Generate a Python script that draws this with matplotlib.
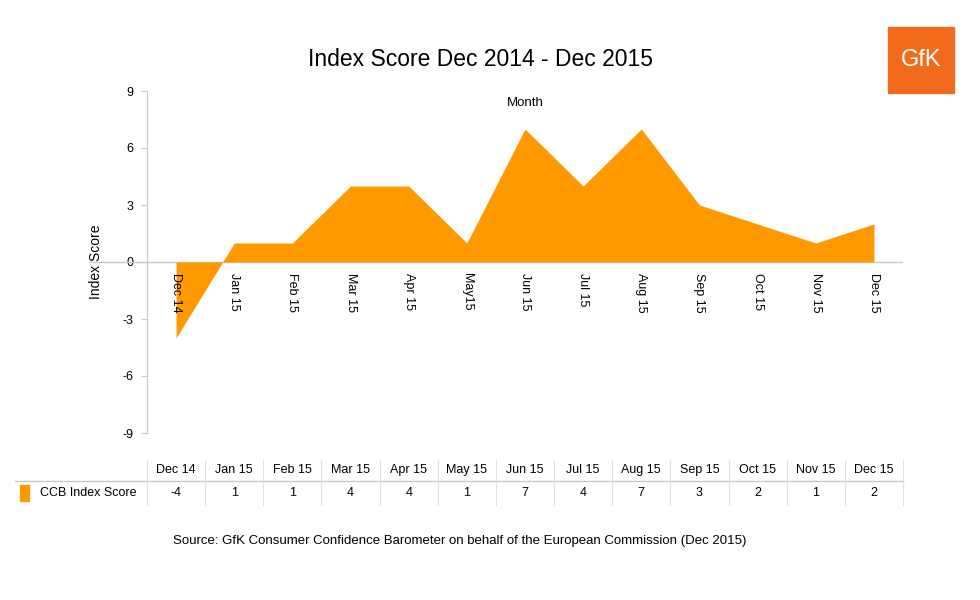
import matplotlib
matplotlib.use("Agg")
import matplotlib.pyplot as plt
from matplotlib.transforms import blended_transform_factory
from matplotlib.patches import Rectangle

months = ["Dec 14", "Jan 15", "Feb 15", "Mar 15", "Apr 15", "May15", "Jun 15",
          "Jul 15", "Aug 15", "Sep 15", "Oct 15", "Nov 15", "Dec 15"]
table_months = ["Dec 14", "Jan 15", "Feb 15", "Mar 15", "Apr 15", "May 15", "Jun 15",
                "Jul 15", "Aug 15", "Sep 15", "Oct 15", "Nov 15", "Dec 15"]
scores = [-4, 1, 1, 4, 4, 1, 7, 4, 7, 3, 2, 1, 2]
yticks = [9, 6, 3, 0, -3, -6, -9]

ORANGE = "#FF9900"
GRAY = "#C8C8C8"
W, H = 980, 600
fig = plt.figure(figsize=(9.8, 6), dpi=100)
ax = fig.add_axes([147 / W, 1 - 433 / H, (903 - 147) / W, (433 - 91) / H])
x = list(range(len(scores)))
ax.fill_between(x, scores, 0, color=ORANGE, linewidth=0)
ax.set_xlim(-0.5, 12.5)
ax.set_ylim(-9, 9)
ax.set_yticks(yticks)
ax.set_yticklabels([str(v) for v in yticks], fontsize=9, fontfamily="Liberation Sans")
ax.tick_params(axis="y", length=4, color=GRAY, pad=6)
ax.set_xticks([])
for s in ["top", "right", "bottom"]:
    ax.spines[s].set_visible(False)
ax.spines["left"].set_color(GRAY)
ax.axhline(0, color=GRAY, lw=1, xmin=0, xmax=1, zorder=0)
ax.plot([-1.5, -0.5], [0, 0], color=GRAY, lw=1, clip_on=False)
for i, m in enumerate(months):
    ax.annotate(m, (i, 0), xytext=(0, -8), textcoords="offset points",
                rotation=270, ha="center", va="top", fontsize=9,
                fontfamily="Liberation Sans")
ax.set_ylabel("Index Score", fontsize=10, fontfamily="Liberation Sans", labelpad=14)
ax.text(6, 8.35, "Month", ha="center", va="center", fontsize=9.5, fontfamily="Liberation Sans")

fig.text(480 / W, 1 - 60 / H, "Index Score Dec 2014 - Dec 2015", ha="center", va="center",
         fontsize=16.5, fontfamily="Liberation Sans")

# table
tr = blended_transform_factory(ax.transData, fig.transFigure)
for i, (m, v) in enumerate(zip(table_months, scores)):
    fig.text(i, 1 - 470 / H, m, transform=tr, ha="center", va="center", fontsize=9,
             fontfamily="Liberation Sans")
    fig.text(i, 1 - 493 / H, str(v), transform=tr, ha="center", va="center", fontsize=9,
             fontfamily="Liberation Sans")
fig.add_artist(plt.Line2D([15 / W, 903 / W], [1 - 481 / H] * 2, color=GRAY, lw=1))
for i in range(len(scores) + 1):
    fig.add_artist(plt.Line2D([i - 0.5, i - 0.5], [1 - 460 / H, 1 - 505 / H],
                              transform=tr, color="#E0E0E0", lw=0.8))
fig.add_artist(Rectangle((20 / W, 1 - 501 / H), 9 / W, 16 / H, color=ORANGE,
                         transform=fig.transFigure))
fig.text(40 / W, 1 - 493 / H, "CCB Index Score", ha="left", va="center", fontsize=9,
         fontfamily="Liberation Sans")

fig.text(460 / W, 1 - 541 / H,
         "Source: GfK Consumer Confidence Barometer on behalf of the European Commission (Dec 2015)",
         ha="center", va="center", fontsize=9.5, fontfamily="Liberation Sans")

# logo
fig.add_artist(Rectangle((888 / W, 1 - 93 / H), 66 / W, 66 / H, color="#F26B1D",
                         transform=fig.transFigure))
fig.text(921 / W, 1 - 60 / H, "GfK", ha="center", va="center", fontsize=17,
         color="white", fontfamily="Liberation Sans")

fig.savefig("out.png", dpi=100)
